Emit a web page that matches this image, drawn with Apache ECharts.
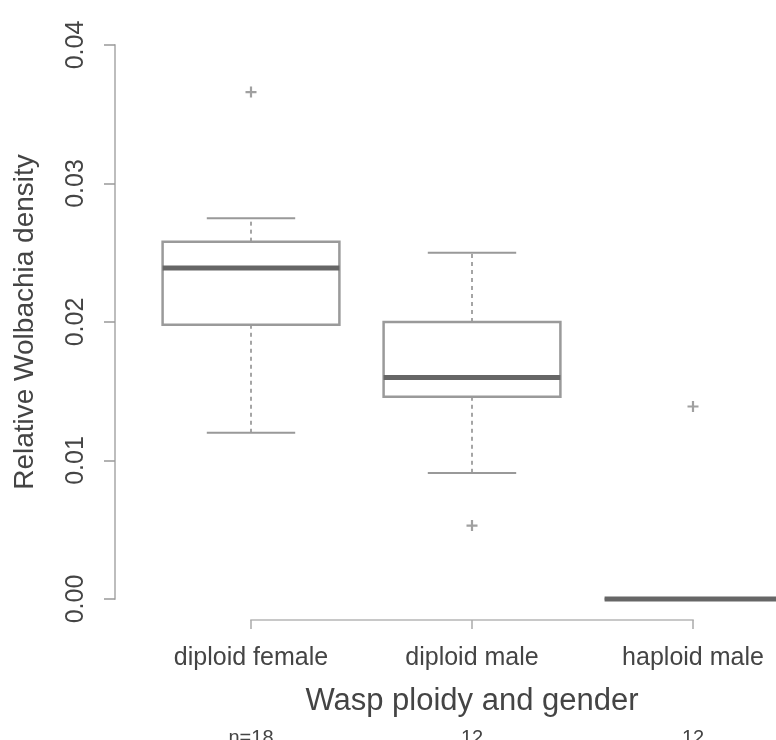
<!DOCTYPE html>
<html>
<head>
<meta charset="utf-8">
<script src="https://cdn.jsdelivr.net/npm/echarts@6/dist/echarts.min.js"></script>
<style>
html,body{margin:0;padding:0;background:#fff;}
#chart{width:776px;height:740px;}
</style>
</head>
<body>
<div id="chart"></div>
<script>
// ---- data ----
const categories = ['diploid female', 'diploid male', 'haploid male'];
const nLabels = ['n=18', '12', '12'];
const lowWhisker  = [0.0120, 0.0091, 0.0000];
const q1          = [0.0198, 0.0146, 0.0000];
const median      = [0.0239, 0.0160, 0.0000];
const q3          = [0.0258, 0.0200, 0.0000];
const highWhisker = [0.0275, 0.0250, 0.0000];
const outliers    = [[0.0366], [0.0053], [0.0139]];
const yMin = 0, yMax = 0.04, yStep = 0.01;

// ---- build series data ----
const boxData = categories.map((c, i) => [i + 1, lowWhisker[i], q1[i], median[i], q3[i], highWhisker[i]]);
const outlierData = [];
outliers.forEach((arr, i) => arr.forEach(v => outlierData.push([i + 1, v])));

const textColor = '#444';
const font = 'Liberation Sans, Arial, sans-serif';

const chart = echarts.init(document.getElementById('chart'), null, {renderer: 'canvas'});

function renderBox(params, api) {
  const x = api.value(0);
  const lo = api.coord([x, api.value(1)]);
  const b1 = api.coord([x, api.value(2)]);
  const md = api.coord([x, api.value(3)]);
  const b3 = api.coord([x, api.value(4)]);
  const hi = api.coord([x, api.value(5)]);
  const halfW = api.size([0.8, 0])[0] / 2;
  const capHalf = api.size([0.4, 0])[0] / 2;
  const cx = md[0];
  const dash = {stroke: '#888', lineWidth: 1.5, lineDash: [4, 4], fill: null};
  const cap = {stroke: '#999', lineWidth: 2, fill: null};
  return {
    type: 'group',
    children: [
      {type: 'line', shape: {x1: cx, y1: b3[1], x2: cx, y2: hi[1]}, style: dash},
      {type: 'line', shape: {x1: cx, y1: b1[1], x2: cx, y2: lo[1]}, style: dash},
      {type: 'line', shape: {x1: cx - capHalf, y1: hi[1], x2: cx + capHalf, y2: hi[1]}, style: cap},
      {type: 'line', shape: {x1: cx - capHalf, y1: lo[1], x2: cx + capHalf, y2: lo[1]}, style: cap},
      {type: 'rect', shape: {x: cx - halfW, y: b3[1], width: 2 * halfW, height: b1[1] - b3[1]},
        style: {stroke: '#9a9a9a', lineWidth: 2.5, fill: '#fff'}},
      {type: 'line', shape: {x1: cx - halfW, y1: md[1], x2: cx + halfW, y2: md[1]},
        style: {stroke: '#666', lineWidth: 5, fill: null}}
    ]
  };
}

const option = {
  animation: false,
  backgroundColor: '#fff',
  grid: {left: 251, right: 83, top: 45, bottom: 141, containLabel: false, outerBoundsMode: 'none'},
  xAxis: [
    {
      type: 'value', min: 1, max: 3, interval: 1, offset: 21,
      splitLine: {show: false},
      axisLine: {show: true, onZero: false, lineStyle: {color: '#c8c8c8', width: 2}},
      axisTick: {show: true, length: 9, lineStyle: {color: '#aaa', width: 1.5}},
      axisLabel: {
        color: textColor, fontFamily: font, fontSize: 25, margin: 26,
        formatter: v => categories[Math.round(v) - 1] || ''
      },
      name: 'Wasp ploidy and gender', nameLocation: 'middle', nameGap: 66,
      nameTextStyle: {color: textColor, fontFamily: font, fontSize: 31}
    },
    {
      type: 'value', min: 1, max: 3, interval: 1, offset: 21, position: 'bottom',
      splitLine: {show: false},
      axisLine: {show: false, onZero: false}, axisTick: {show: false},
      axisLabel: {
        color: textColor, fontFamily: font, fontSize: 20, margin: 108,
        formatter: v => nLabels[Math.round(v) - 1] || ''
      }
    }
  ],
  yAxis: {
    type: 'value', min: yMin, max: yMax, interval: yStep, offset: 136,
    splitLine: {show: false},
    axisLine: {show: true, onZero: false, lineStyle: {color: '#bdbdbd', width: 2}},
    axisTick: {show: true, length: 11, lineStyle: {color: '#999', width: 1.5}},
    axisLabel: {
      color: textColor, fontFamily: font, fontSize: 25, rotate: 90, margin: 26,
      formatter: v => v.toFixed(2)
    },
    name: 'Relative Wolbachia density', nameLocation: 'middle', nameRotate: 90, nameGap: 76,
    nameTextStyle: {color: textColor, fontFamily: font, fontSize: 28}
  },
  series: [
    {
      type: 'custom', xAxisIndex: 0, clip: false,
      renderItem: renderBox,
      encode: {x: 0, y: [1, 2, 3, 4, 5]},
      data: boxData
    },
    {
      type: 'scatter', xAxisIndex: 0, clip: false,
      symbol: 'path://M4,0h2v4h4v2h-4v4h-2v-4h-4v-2h4z',
      symbolSize: 11,
      itemStyle: {color: '#888'},
      data: outlierData
    }
  ]
};
chart.setOption(option);
</script>
</body>
</html>
